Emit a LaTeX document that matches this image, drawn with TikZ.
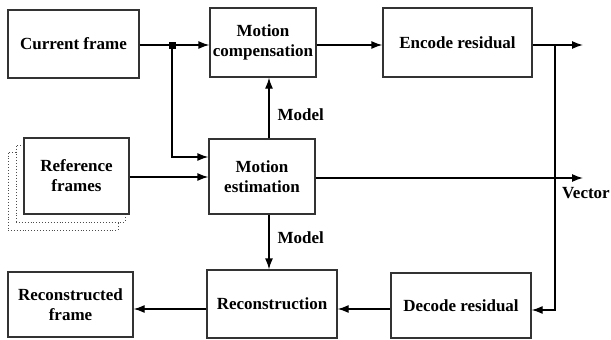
\documentclass[tikz,border=0pt]{standalone}
\usepackage{fontspec}
\setmainfont{Liberation Serif}
\usetikzlibrary{arrows.meta}
\begin{document}
\begin{tikzpicture}[x=1pt,y=-1pt,line width=1.3pt,
    arr/.style={-{Latex[length=11pt,width=8pt]}},
    every edge/.style={draw,arr}]

        \useasboundingbox (0,0) rectangle (611,340);

        \begin{scope}[every node/.style={draw=black!70,dotted,line width=.9pt,fill=white,inner sep=0pt}]
          \node[minimum width=110pt,minimum height=78pt] (sh2) at (63,191) {};
          \node[minimum width=109pt,minimum height=77pt] (sh1) at (70.5,183.5) {};
        \end{scope}

        \begin{scope}[every node/.style={draw=black!80,fill=white,align=center,inner sep=0pt,
            font=\fontsize{17}{20}\selectfont\bfseries}]
          \node[minimum width=131pt,minimum height=68pt] (cur)  at (73.5,44)  {Current frame};
          \node[minimum width=106pt,minimum height=69pt] (mc)   at (263,42.5) {Motion\\compensation};
          \node[minimum width=149pt,minimum height=69pt] (enc)  at (457.5,42.5) {Encode residual};
          \node[minimum width=105pt,minimum height=76pt] (ref)  at (76.5,176) {Reference\\frames};
          \node[minimum width=106pt,minimum height=75pt] (me)   at (262,176.5) {Motion\\estimation};
          \node[minimum width=130pt,minimum height=68pt] (rec)  at (272,304) {Reconstruction};
          \node[minimum width=125pt,minimum height=65pt] (recf) at (70.5,304.5) {Reconstructed\\frame};
          \node[minimum width=140pt,minimum height=65pt] (dec)  at (461,305.5) {Decode residual};
        \end{scope}

        \coordinate (mid)  at (269,0);
        \coordinate (bus)  at (555,45);
        \coordinate (out1) at (583,45);
        \coordinate (out2) at (583,178);

        \begin{scope}[every node/.style={font=\fontsize{17}{20}\selectfont\bfseries,inner sep=0pt}]
          \path (cur.east |- 0,45) edge (mc.west |- 0,45);
          \path (mc.east |- 0,45) edge (enc.west |- 0,45);
          \path (enc.east |- 0,45) edge (out1);
          \path (ref.east |- 0,177) edge (me.west |- 0,177);
          \path (me.east |- 0,178) edge node[pos=1,below=9pt,xshift=3pt] {Vector} (out2);
          \path (me.north -| mid) edge node[right=8pt,pos=.39] {Model} (mc.south -| mid);
          \path (me.south -| mid) edge node[right=8pt,pos=.43] {Model} (rec.north -| mid);
          \draw[arr] (bus) |- (dec.east |- 0,310);
          \path (dec.west |- 0,309) edge (rec.east |- 0,309);
          \path (rec.west |- 0,309) edge (recf.east |- 0,309);
        \end{scope}

        \node[fill=black,inner sep=0pt,minimum size=7pt] (jn) at (172,45) {};
        \draw[arr] (jn) |- (me.west |- 0,157);

      \end{tikzpicture}
\end{document}
